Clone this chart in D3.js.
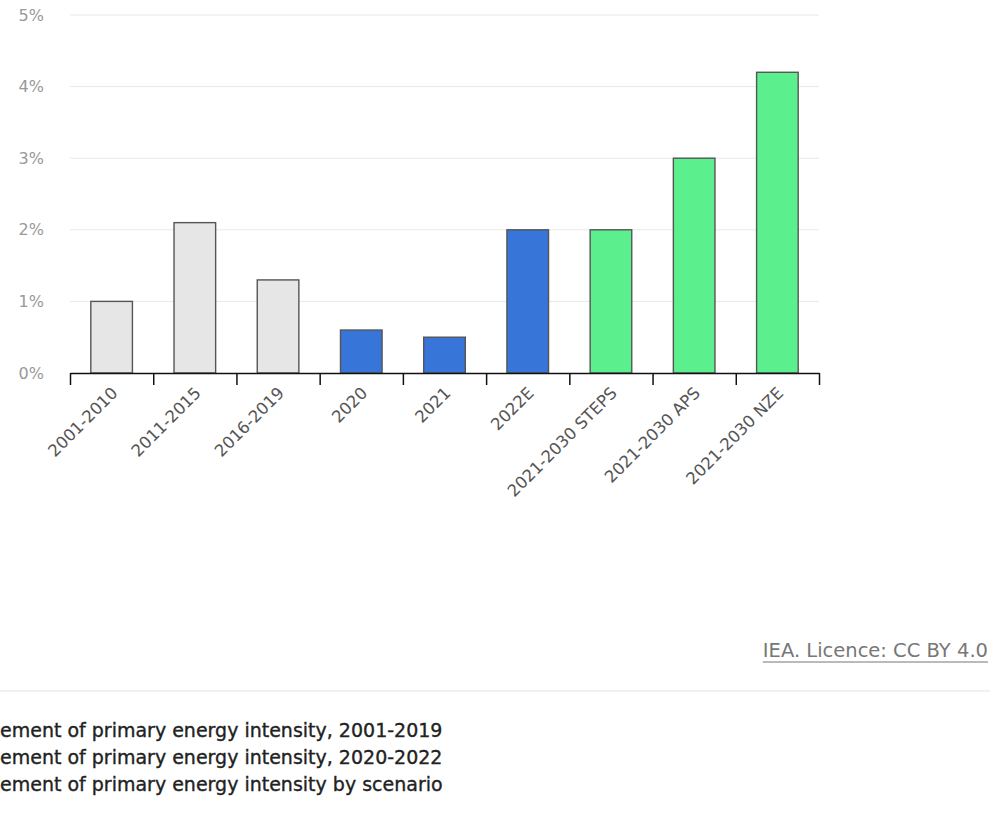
<!DOCTYPE html>
<html>
<head>
<meta charset="utf-8">
<script src="https://cdn.jsdelivr.net/npm/d3@7"></script>
<style>
  html, body { margin: 0; padding: 0; background: #fff; overflow: hidden; }
  svg { display: block; }
</style>
</head>
<body>
<svg id="chart" width="990" height="817"></svg>
<script>
// Annual improvement of primary energy intensity (%)
const categories = ["2001-2010", "2011-2015", "2016-2019", "2020", "2021", "2022E",
                    "2021-2030 STEPS", "2021-2030 APS", "2021-2030 NZE"];
const values = [1.0, 2.1, 1.3, 0.6, 0.5, 2.0, 2.0, 3.0, 4.2];
const groups = ["hist", "hist", "hist", "recent", "recent", "recent", "scen", "scen", "scen"];
const yTicks = [0, 1, 2, 3, 4, 5];
const legendLabels = [
  "Improvement of primary energy intensity, 2001-2019",
  "Improvement of primary energy intensity, 2020-2022",
  "Improvement of primary energy intensity by scenario"
];
const sourceText = "IEA. Licence: CC BY 4.0";

const colors = { hist: "#e6e6e6", recent: "#3775d8", scen: "#5cef8e" };
const font = "'DejaVu Sans', sans-serif";

const svg = d3.select("#chart");
const plotLeft = 70, plotRight = 819, plotTop = 15, plotBottom = 373;

const x = d3.scaleBand().domain(categories).range([plotLeft, plotRight]).paddingInner(0.5).paddingOuter(0.25);
const y = d3.scaleLinear().domain([0, 5]).range([plotBottom, plotTop]);

// gridlines
svg.append("g")
  .selectAll("line")
  .data(yTicks.filter(d => d > 0))
  .join("line")
  .attr("x1", plotLeft).attr("x2", plotRight)
  .attr("y1", d => y(d)).attr("y2", d => y(d))
  .attr("stroke", "#e8e8e8").attr("stroke-width", 1);

// y labels
svg.append("g")
  .selectAll("text")
  .data(yTicks)
  .join("text")
  .attr("x", 44).attr("y", d => y(d))
  .attr("dy", "0.35em")
  .attr("text-anchor", "end")
  .attr("font-family", font).attr("font-size", 16)
  .attr("fill", "#999")
  .text(d => d + "%");

// bars
svg.append("g")
  .selectAll("rect")
  .data(values)
  .join("rect")
  .attr("x", (d, i) => x(categories[i]))
  .attr("width", x.bandwidth())
  .attr("y", d => y(d))
  .attr("height", d => y(0) - y(d))
  .attr("fill", (d, i) => colors[groups[i]])
  .attr("stroke", "#555")
  .attr("stroke-width", 1.4);

// x axis with ticks at band boundaries
const boundaryScale = d3.scaleLinear().domain([0, categories.length]).range([plotLeft, plotRight]);
const xAxis = svg.append("g")
  .attr("transform", `translate(0,${plotBottom})`)
  .call(d3.axisBottom(boundaryScale).tickValues(d3.range(categories.length + 1)).tickFormat("").tickSize(12).tickSizeOuter(0));
xAxis.select(".domain").attr("stroke", "#111").attr("stroke-width", 1.5);
xAxis.selectAll(".tick line").attr("stroke", "#111").attr("stroke-width", 1.5);

// category labels
svg.append("g")
  .selectAll("text")
  .data(categories)
  .join("text")
  .attr("transform", d => `translate(${x(d) + x.bandwidth() / 2 + 3},${plotBottom + 17}) rotate(-45)`)
  .attr("text-anchor", "end")
  .attr("dy", "0.35em")
  .attr("font-family", font).attr("font-size", 16.5)
  .attr("fill", "#555")
  .text(d => d);

// source
const src = svg.append("text")
  .attr("x", 988).attr("y", 657)
  .attr("text-anchor", "end")
  .attr("font-family", font).attr("font-size", 19.5)
  .attr("fill", "#777")
  .text(sourceText);
const sb = src.node().getBBox();
svg.append("line")
  .attr("x1", sb.x).attr("x2", sb.x + sb.width)
  .attr("y1", 662).attr("y2", 662)
  .attr("stroke", "#777").attr("stroke-width", 1.2);

// separator
svg.append("line")
  .attr("x1", 0).attr("x2", 990).attr("y1", 691).attr("y2", 691)
  .attr("stroke", "#e2e2e2").attr("stroke-width", 1.2);

// legend text, starting past the left edge
const legend = svg.append("g");
legendLabels.forEach((t, i) => {
  const txt = legend.append("text")
    .attr("y", 737 + i * 27)
    .attr("font-family", font).attr("font-size", 19)
    .attr("fill", "#222")
    .attr("stroke", "#222").attr("stroke-width", 0.35)
    .text(t);
  const prefix = legend.append("text")
    .attr("font-family", font).attr("font-size", 19)
    .text("Improv");
  const w = prefix.node().getComputedTextLength();
  prefix.remove();
  txt.attr("x", -w);
});
</script>
</body>
</html>
